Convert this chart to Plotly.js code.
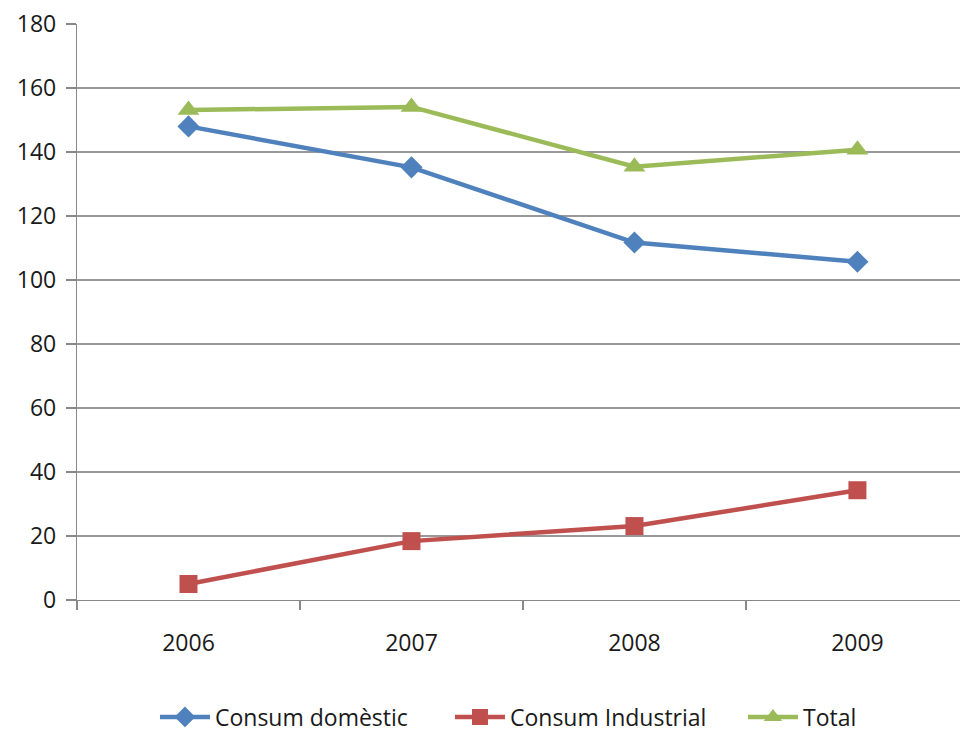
<!DOCTYPE html>
<html>
<head>
<meta charset="utf-8">
<script src="https://cdn.plot.ly/plotly-3.0.1.min.js"></script>
<style>
  html, body { margin: 0; padding: 0; background: #fff; }
  #chart { width: 961px; height: 729px; }
</style>
</head>
<body>
<div id="chart"></div>
<script>
// Years on the category axis
const years = ['2006', '2007', '2008', '2009'];

// Consumption series
const consumDomestic = [148, 135.2, 111.7, 105.7];
const consumIndustrial = [5.0, 18.4, 23.1, 34.3];
const consumTotal = [153.1, 154.1, 135.4, 140.7];

// Y-axis ticks
const yTicks = [0, 20, 40, 60, 80, 100, 120, 140, 160, 180];

const traces = [
  {
    x: years, y: consumDomestic, name: 'Consum domèstic', legend: 'legend',
    type: 'scatter', mode: 'lines+markers',
    line: { color: '#4F81BD', width: 4.5 },
    marker: { symbol: 'diamond', size: 17, color: '#4F81BD' }
  },
  {
    x: years, y: consumIndustrial, name: 'Consum Industrial', legend: 'legend2',
    type: 'scatter', mode: 'lines+markers',
    line: { color: '#C0504D', width: 4.5 },
    marker: { symbol: 'square', size: 18, color: '#C0504D' }
  },
  {
    x: years, y: consumTotal, name: 'Total', legend: 'legend3',
    type: 'scatter', mode: 'lines+markers',
    line: { color: '#9BBB59', width: 4.5 },
    marker: { symbol: 'triangle-up', size: 19, color: '#9BBB59' }
  }
];

// One legend box per series, laid out in a row under the plot
function legendAt(x) {
  return {
    orientation: 'h', x: x, xanchor: 'left', y: -0.203, yanchor: 'middle',
    font: { size: 23, color: '#1a1a1a' },
    itemwidth: 50,
    bgcolor: 'rgba(0,0,0,0)'
  };
}

const layout = {
  width: 961, height: 729,
  paper_bgcolor: '#ffffff', plot_bgcolor: '#ffffff',
  margin: { l: 77, r: 1, t: 24, b: 129, autoexpand: false },
  font: { family: '"Open Sans", Lato, sans-serif', size: 23, color: '#1a1a1a' },
  showlegend: true,
  legend: legendAt(0.0883),
  legend2: legendAt(0.4224),
  legend3: legendAt(0.7542),
  xaxis: {
    type: 'category', range: [-0.5, 3.46],
    showgrid: false, zeroline: false,
    showline: true, linecolor: '#888888', linewidth: 1.2,
    ticks: 'outside', tickson: 'boundaries', ticklen: 9, tickcolor: '#888888', tickwidth: 1.2,
    ticklabelstandoff: 22,
    tickfont: { size: 23 }
  },
  yaxis: {
    range: [0, 180], tickvals: yTicks,
    showgrid: true, gridcolor: '#999999', gridwidth: 1.2,
    zeroline: false,
    showline: true, linecolor: '#888888', linewidth: 1.2,
    ticks: 'outside', ticklen: 10, tickcolor: '#888888', tickwidth: 1.2,
    ticklabelstandoff: 5,
    tickfont: { size: 23 }
  }
};

Plotly.newPlot('chart', traces, layout, { staticPlot: true, displayModeBar: false });
</script>
</body>
</html>
